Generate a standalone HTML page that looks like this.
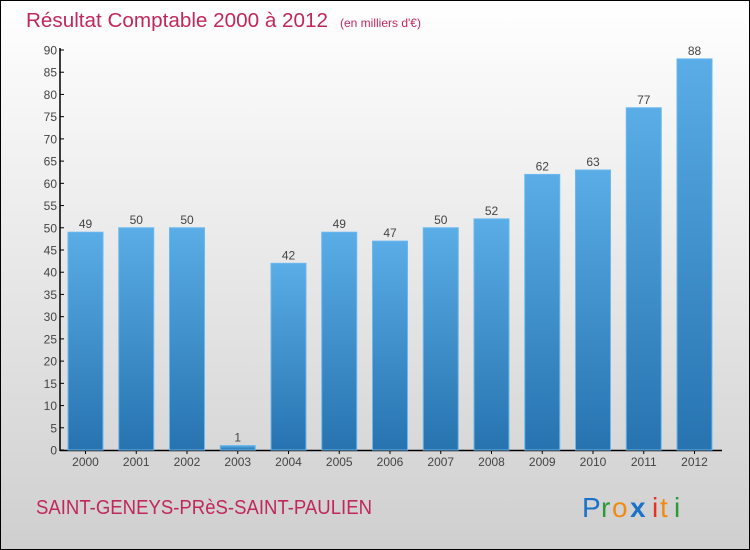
<!DOCTYPE html>
<html><head><meta charset="utf-8"><style>
body{margin:0;}
svg{display:block;font-family:"Liberation Sans",sans-serif;}
</style></head><body>
<svg width="750" height="550" viewBox="0 0 750 550">
<defs>
<linearGradient id="bg" x1="0" y1="0" x2="0" y2="1"><stop offset="0" stop-color="#ffffff"/><stop offset="1" stop-color="#cfcfcf"/></linearGradient>
<linearGradient id="bar" x1="0" y1="0" x2="0" y2="1"><stop offset="0" stop-color="#5aade6"/><stop offset="1" stop-color="#2673b0"/></linearGradient>
</defs>
<rect x="0.5" y="0.5" width="749" height="549" fill="url(#bg)" stroke="#000"/>
<text x="26" y="27" font-size="20" fill="#c0285a"><tspan textLength="302" lengthAdjust="spacingAndGlyphs">Résultat Comptable 2000 à 2012</tspan><tspan font-size="12" dx="12">(en milliers d'€)</tspan></text>
<g id="axes"></g>
<g id="bars"></g>
<text x="36" y="514" font-size="20" fill="#c0285a" textLength="336" lengthAdjust="spacingAndGlyphs">SAINT-GENEYS-PRèS-SAINT-PAULIEN</text>
<g font-size="28">
<text x="582" y="517" fill="#1a73c8">P</text><text x="601" y="517" fill="#2a9a3a">r</text><text x="612" y="517" fill="#f28a10">o</text><text x="630" y="517" fill="#1a73c8" font-weight="bold">x</text><text x="652" y="517" fill="#e83020">i</text><text x="660" y="517" fill="#f28a10">t</text><text x="674" y="517" fill="#2a9a3a">i</text>
</g>
</svg>
<script>
const years=["2000","2001","2002","2003","2004","2005","2006","2007","2008","2009","2010","2011","2012"];
const values=[49,50,50,1,42,49,47,50,52,62,63,77,88];
const yTicks=[0,5,10,15,20,25,30,35,40,45,50,55,60,65,70,75,80,85,90];
const NS="http://www.w3.org/2000/svg";
const y0=450,pxPer=400/90,x0=68,step=50.75,bw=35;
const Y=v=>y0-v*pxPer, X=i=>x0+i*step;
function mk(t,a,p,txt){const e=document.createElementNS(NS,t);for(const k in a)e.setAttribute(k,a[k]);if(txt!==undefined)e.textContent=txt;p.appendChild(e);return e;}
const ax=document.getElementById('axes'),bg=document.getElementById('bars');
const yl=mk('line',{x1:60,y1:48,x2:60,y2:451,stroke:'#000','stroke-width':1.5},ax);


const xl=mk('line',{x1:60,y1:450.5,x2:722,y2:450.5,stroke:'#000','stroke-width':1.5},ax);


yTicks.forEach(v=>{
 mk('line',{x1:60,x2:64,y1:Y(v),y2:Y(v),stroke:'#000'},ax);
 const t=mk('text',{x:57,y:Y(v)+4.5,'text-anchor':'end','font-size':12,fill:'#444'},ax,v);
 
 
});
values.forEach((v,i)=>{
 const r=mk('rect',{x:X(i),y:Y(v),width:bw,height:y0-Y(v),fill:'url(#bar)',stroke:'#6bb8ee','stroke-width':1},bg);
 
 
 const l=mk('text',{x:X(i)+bw/2,y:Y(v)-4,'text-anchor':'middle','font-size':12,fill:'#444'},bg,v);
 
 
 mk('line',{x1:X(i)+bw/2,x2:X(i)+bw/2,y1:450,y2:454,stroke:'#000'},ax);
 const xt=mk('text',{x:X(i)+bw/2,y:466,'text-anchor':'middle','font-size':12,fill:'#444'},ax,years[i]);
 
 
});
</script>
</body></html>
